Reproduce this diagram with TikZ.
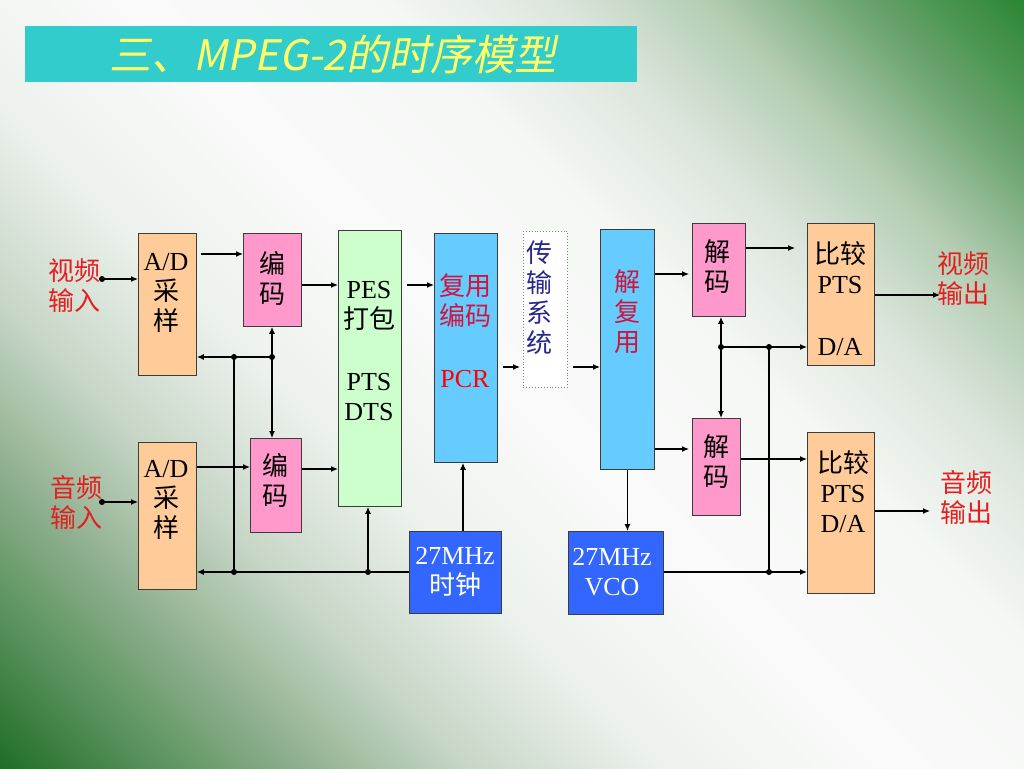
\documentclass[tikz,border=0pt]{standalone}
\usepackage{fontspec}
\setmainfont{Liberation Serif}
\newfontfamily\cjk{Noto Sans CJK SC}
\newfontfamily\cjktitle[FakeSlant=0.2]{Noto Sans CJK SC}
\usetikzlibrary{arrows.meta}
\definecolor{peach}{RGB}{255,204,153}
\definecolor{pinkbox}{RGB}{255,153,204}
\definecolor{greenbox}{RGB}{204,255,204}
\definecolor{lblue}{RGB}{102,204,255}
\definecolor{dblue}{RGB}{51,102,255}
\definecolor{titlebg}{RGB}{51,204,204}
\definecolor{titlefg}{RGB}{255,255,102}
\definecolor{redtxt}{RGB}{230,30,30}
\definecolor{crimson}{RGB}{210,20,60}
\definecolor{navy}{RGB}{40,40,140}
\definecolor{edge}{RGB}{60,60,60}
\pgfdeclarehorizontalshading{bgshade}{100bp}{%
 rgb(0bp)=(0.13,0.43,0.16); rgb(14.6bp)=(0.13,0.43,0.16);
 rgb(21bp)=(0.36,0.58,0.37); rgb(27bp)=(0.58,0.70,0.58);
 rgb(33bp)=(0.78,0.84,0.78); rgb(41bp)=(0.93,0.95,0.93);
 rgb(50bp)=(0.98,0.98,0.98); rgb(60bp)=(0.96,0.97,0.96);
 rgb(67bp)=(0.86,0.90,0.86); rgb(73bp)=(0.70,0.80,0.70);
 rgb(79bp)=(0.42,0.64,0.43); rgb(85.4bp)=(0.17,0.53,0.20);
 rgb(100bp)=(0.17,0.53,0.20)}
\newcommand\zhs[1]{{\cjk #1}}
\tikzset{
  box/.style={draw=edge, line width=0.9pt, anchor=north west, inner sep=0pt},
  txt/.style={align=center, font=\fontsize{26}{30}\selectfont, inner sep=0pt},
  arr/.style={line width=1.2pt, -{Latex[length=7pt,width=6pt]}},
  darr/.style={line width=1.2pt, {Latex[length=7pt,width=6pt]}-{Latex[length=7pt,width=6pt]}},
  ln/.style={line width=1.2pt},
  dotc/.style={circle, fill=black, inner sep=0pt, minimum size=6pt}
}
\begin{document}
\begin{tikzpicture}[x=1pt,y=-1pt]
\useasboundingbox (0,0) rectangle (1024,768);
\shade[shading=bgshade, shading angle=45] (0,0) rectangle (1024,768);
% title
\node[fill=titlebg, anchor=north west, minimum width=612pt, minimum height=56pt, inner sep=0pt] (titlebar) at (25,26) {};
\node[text=titlefg, font=\cjktitle\fontsize{42}{46}\selectfont, inner sep=0pt] (title) at (333,54) {三、MPEG-2的时序模型};
% boxes
\node[box, fill=peach, minimum width=58pt, minimum height=142pt] (ad1) at (138,233) {};
\node[box, fill=peach, minimum width=58pt, minimum height=147pt] (ad2) at (138,442) {};
\node[box, fill=pinkbox, minimum width=58pt, minimum height=93pt] (enc1) at (243,233) {};
\node[box, fill=pinkbox, minimum width=51pt, minimum height=94pt] (enc2) at (250,438) {};
\node[box, fill=greenbox, minimum width=63pt, minimum height=276pt] (pes) at (338,230) {};
\node[box, fill=lblue, minimum width=63pt, minimum height=229pt] (mux) at (434,233) {};
\node[box, fill=white, draw=gray, dotted, line width=0.8pt, minimum width=44pt, minimum height=156pt] (trans) at (523,231) {};
\node[box, fill=lblue, minimum width=54pt, minimum height=240pt] (demux) at (600,229) {};
\node[box, fill=dblue, minimum width=92pt, minimum height=82pt] (clk) at (409,531) {};
\node[box, fill=dblue, minimum width=95pt, minimum height=83pt] (vco) at (568,531) {};
\node[box, fill=pinkbox, minimum width=53pt, minimum height=93pt] (dec1) at (692,223) {};
\node[box, fill=pinkbox, minimum width=48pt, minimum height=97pt] (dec2) at (692,418) {};
\node[box, fill=peach, minimum width=67pt, minimum height=142pt] (cmp1) at (807,223) {};
\node[box, fill=peach, minimum width=67pt, minimum height=161pt] (cmp2) at (807,432) {};
% texts
\node[txt, text=redtxt] (vin) at (74,286) {\zhs{视频}\\\zhs{输入}};
\node[txt, text=redtxt] (ain) at (76,502) {\zhs{音频}\\\zhs{输入}};
\node[txt, text=redtxt] (vout) at (963,279) {\zhs{视频}\\\zhs{输出}};
\node[txt, text=redtxt] (aout) at (966,497) {\zhs{音频}\\\zhs{输出}};
\node[txt] (ad1t) at (166,293) {A/D\\\zhs{采}\\\zhs{样}};
\node[txt] (ad2t) at (166,500) {A/D\\\zhs{采}\\\zhs{样}};
\node[txt] (enc1t) at (272,278) {\zhs{编}\\\zhs{码}};
\node[txt] (enc2t) at (275,480) {\zhs{编}\\\zhs{码}};
\node[txt] (pest) at (369,351) {PES\\\zhs{打包}\\[32pt]PTS\\DTS};
\node[txt, text=crimson] (muxt) at (465,331) {\zhs{复用}\\\zhs{编码}\\[32pt]\textcolor{red}{PCR}};
\node[txt, text=navy] (transt) at (539,298) {\zhs{传}\\\zhs{输}\\\zhs{系}\\\zhs{统}};
\node[txt, text=crimson] (demuxt) at (627,312) {\zhs{解}\\\zhs{复}\\\zhs{用}};
\node[txt, text=white] (clkt) at (455,572) {27MHz\\\zhs{时钟}};
\node[txt, text=white] (vcot) at (612,572) {27MHz\\VCO};
\node[txt] (dec1t) at (717,267) {\zhs{解}\\\zhs{码}};
\node[txt] (dec2t) at (716,462) {\zhs{解}\\\zhs{码}};
\node[txt] (cmp1t) at (840,299) {\zhs{比较}\\PTS\\[32pt]D/A};
\node[txt] (cmp2t) at (843,492) {\zhs{比较}\\PTS\\D/A};
% junction coordinates
\coordinate (vdot) at (102,279);
\coordinate (adot) at (102,502);
\coordinate (j1) at (234,357);
\coordinate (j2) at (272,357);
\coordinate (j3) at (234,572);
\coordinate (j4) at (368,572);
\coordinate (j5) at (769,347);
\coordinate (j6) at (769,572);
\coordinate (j7) at (721,347);
\coordinate (vend) at (940,295);
\coordinate (aend) at (930,511);
% connectors left
\draw[arr] (vdot) -- (ad1.west |- vdot);
\draw[arr] (adot) -- (ad2.west |- adot);
\draw[arr, shorten <=4pt] (ad1.east |- 0,254) -- (enc1.west |- 0,254);
\draw[arr] (enc1.east |- 0,285) -- (pes.west |- 0,285);
\draw[arr] (ad2.east |- 0,467) -- (enc2.west |- 0,467);
\draw[arr] (enc2.east |- 0,469) -- (pes.west |- 0,469);
\draw[arr] (j2) -- (ad1.east |- j2);
\draw[ln] (j1) -- (j3);
\draw[darr] (j2 |- enc1.south) -- (j2 |- enc2.north);
\draw[arr] (clk.west |- j3) -- (ad2.east |- j3);
\draw[arr] (j4) -- (j4 |- pes.south);
% middle
\draw[arr, shorten <=5pt] (pes.east |- 0,285) -- (mux.west |- 0,285);
\draw[arr, shorten <=5pt, shorten >=3pt] (mux.east |- 0,367) -- (trans.west |- 0,367);
\draw[arr, shorten <=5pt] (trans.east |- 0,367) -- (demux.west |- 0,367);
\draw[arr] (clk.north -| 463,0) -- (mux.south -| 463,0);
\draw[arr] (demux.south) -- (demux.south |- vco.north);
\draw[arr, shorten >=3pt] (demux.east |- 0,274) -- (dec1.west |- 0,274);
\draw[arr, shorten >=3pt] (demux.east |- 0,449) -- (dec2.west |- 0,449);
% right
\draw[arr] (vco.east |- j6) -- (cmp2.west |- j6);
\draw[ln] (j6) -- (j5);
\draw[arr] (j7) -- (cmp1.west |- j7);
\draw[darr] (j7 |- dec1.south) -- (j7 |- dec2.north);
\draw[arr, shorten >=12pt] (dec1.east |- 0,248) -- (cmp1.west |- 0,248);
\draw[arr] (dec2.east |- 0,459) -- (cmp2.west |- 0,459);
\draw[arr] (cmp1.east |- vend) -- (vend);
\draw[arr] (cmp2.east |- aend) -- (aend);
% dots
\foreach \p in {vdot,adot,j1,j2,j3,j4,j5,j6,j7} \fill (\p) circle (3pt);
\end{tikzpicture}
\end{document}
